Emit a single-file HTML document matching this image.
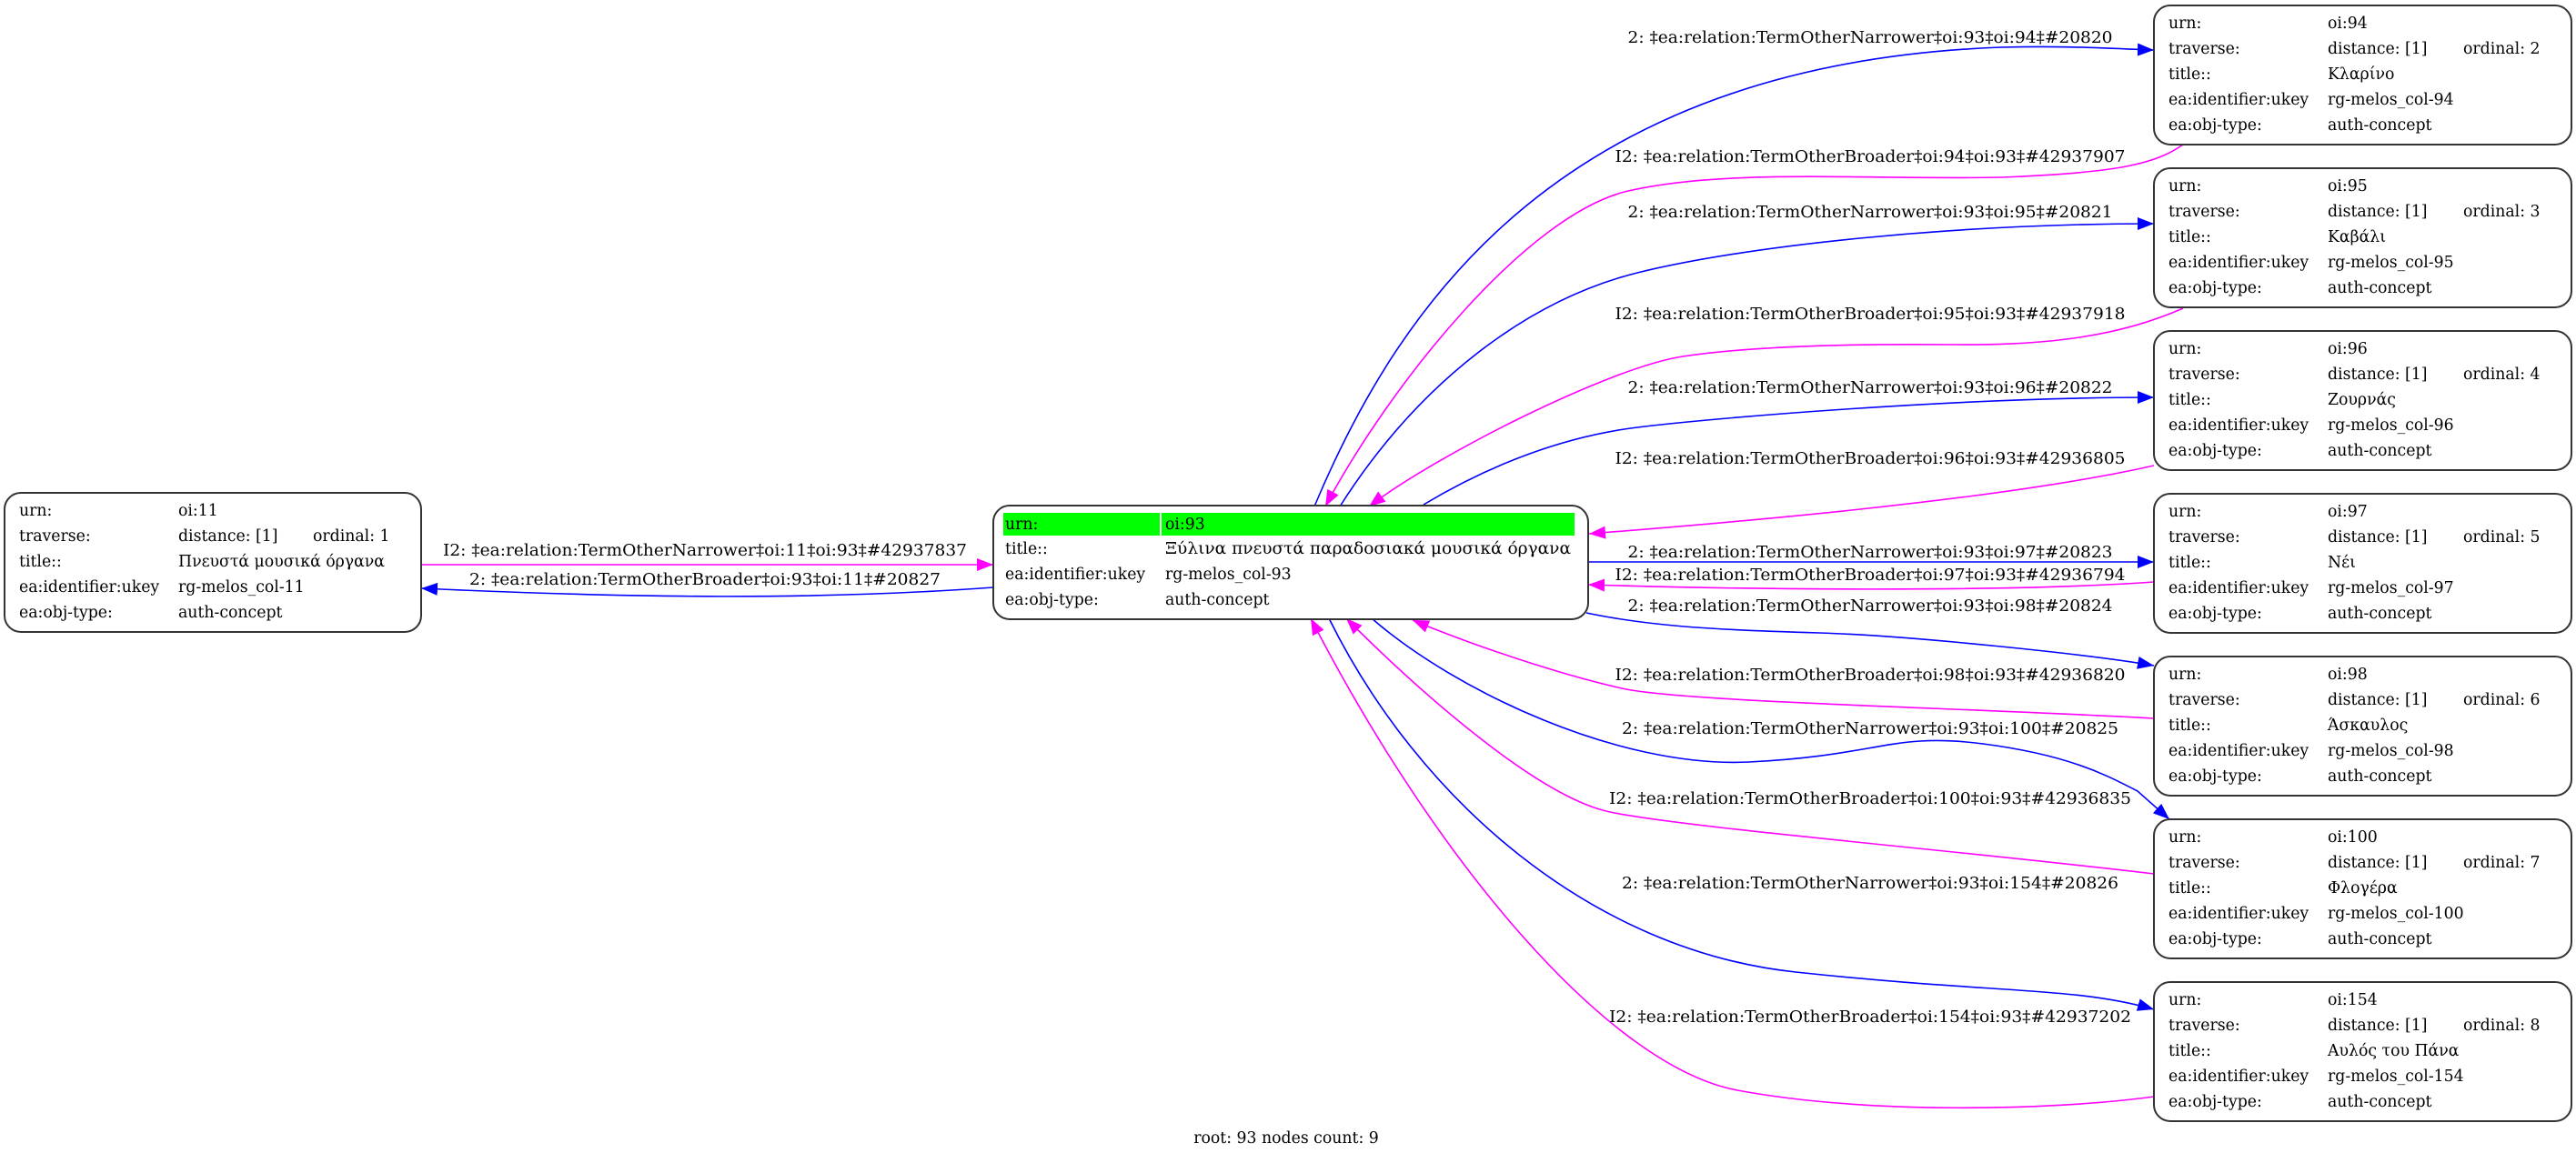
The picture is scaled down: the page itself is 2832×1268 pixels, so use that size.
<!DOCTYPE html>
<html><head><meta charset="utf-8"><style>
html,body{margin:0;padding:0;background:#fff;}
svg{display:block;}
text{font-family:"DejaVu Serif","Liberation Serif",serif;font-size:17.3px;fill:#000;}
.e{fill:none;stroke-width:1.6;}
.b{stroke:#0000ff;}
.m{stroke:#ff00ff;}
.n{fill:#fff;stroke:#333;stroke-width:2;}
</style></head><body>
<svg width="2832" height="1268" viewBox="0 0 2832 1268" xmlns="http://www.w3.org/2000/svg">
<defs>
<marker id="ab" markerUnits="userSpaceOnUse" markerWidth="20" markerHeight="14" refX="18" refY="7" orient="auto"><path d="M0,0 L18,7 L0,14 z" fill="#0000ff"/></marker>
<marker id="am" markerUnits="userSpaceOnUse" markerWidth="20" markerHeight="14" refX="18" refY="7" orient="auto"><path d="M0,0 L18,7 L0,14 z" fill="#ff00ff"/></marker>
</defs>

<!-- edges -->
<path class="e m" marker-end="url(#am)" d="M463,621 L1092,621"/>
<path class="e b" marker-end="url(#ab)" d="M1092,646 C900,660 700,658 463,647"/>
<path class="e b" marker-end="url(#ab)" d="M1445,557 C1540,330 1720,70 2200,52 C2280,50 2330,54 2368,55"/>
<path class="e m" marker-end="url(#am)" d="M2400,159 C2370,180 2330,190 2200,195 C2050,198 1900,185 1790,210 S1530,420 1457,557"/>
<path class="e b" marker-end="url(#ab)" d="M1473,557 C1560,420 1680,330 1800,300 S2150,246 2368,246"/>
<path class="e m" marker-end="url(#am)" d="M2400,339 C2330,370 2250,380 2150,379 S1930,380 1850,392 S1580,500 1505,557"/>
<path class="e b" marker-end="url(#ab)" d="M1565,555 C1640,510 1720,480 1800,470 S2150,437 2368,437"/>
<path class="e m" marker-end="url(#am)" d="M2368,512 C2200,550 1900,575 1747,587"/>
<path class="e b" marker-end="url(#ab)" d="M1746,618 L2368,618"/>
<path class="e m" marker-end="url(#am)" d="M2368,640 C2200,652 1900,648 1746,643"/>
<path class="e b" marker-end="url(#ab)" d="M1744,674 C1820,690 1900,693 2000,696 S2300,720 2368,732"/>
<path class="e m" marker-end="url(#am)" d="M2368,790 C2150,778 1850,772 1783,757 S1620,710 1553,682"/>
<path class="e b" marker-end="url(#ab)" d="M1508,680 C1600,760 1780,845 1923,838 S2080,805 2180,818 S2320,855 2350,870 L2385,901"/>
<path class="e m" marker-end="url(#am)" d="M2368,961 C2150,935 1850,910 1770,893 S1560,760 1480,680"/>
<path class="e b" marker-end="url(#ab)" d="M1461,680 C1560,880 1750,1045 1974,1069 S2280,1085 2368,1110"/>
<path class="e m" marker-end="url(#am)" d="M2368,1206 C2250,1222 2050,1225 1910,1199 S1580,950 1441,680"/>

<!-- edge labels -->
<g text-anchor="middle" dominant-baseline="central">
<text x="775" y="606" textLength="576" lengthAdjust="spacingAndGlyphs">I2: ‡ea:relation:TermOtherNarrower‡oi:11‡oi:93‡#42937837</text>
<text x="775" y="638" textLength="518" lengthAdjust="spacingAndGlyphs">2: ‡ea:relation:TermOtherBroader‡oi:93‡oi:11‡#20827</text>
<text x="2056" y="42" textLength="533" lengthAdjust="spacingAndGlyphs">2: ‡ea:relation:TermOtherNarrower‡oi:93‡oi:94‡#20820</text>
<text x="2056" y="173" textLength="561" lengthAdjust="spacingAndGlyphs">I2: ‡ea:relation:TermOtherBroader‡oi:94‡oi:93‡#42937907</text>
<text x="2056" y="234" textLength="533" lengthAdjust="spacingAndGlyphs">2: ‡ea:relation:TermOtherNarrower‡oi:93‡oi:95‡#20821</text>
<text x="2056" y="346" textLength="561" lengthAdjust="spacingAndGlyphs">I2: ‡ea:relation:TermOtherBroader‡oi:95‡oi:93‡#42937918</text>
<text x="2056" y="427" textLength="533" lengthAdjust="spacingAndGlyphs">2: ‡ea:relation:TermOtherNarrower‡oi:93‡oi:96‡#20822</text>
<text x="2056" y="505" textLength="561" lengthAdjust="spacingAndGlyphs">I2: ‡ea:relation:TermOtherBroader‡oi:96‡oi:93‡#42936805</text>
<text x="2056" y="608" textLength="533" lengthAdjust="spacingAndGlyphs">2: ‡ea:relation:TermOtherNarrower‡oi:93‡oi:97‡#20823</text>
<text x="2056" y="633" textLength="561" lengthAdjust="spacingAndGlyphs">I2: ‡ea:relation:TermOtherBroader‡oi:97‡oi:93‡#42936794</text>
<text x="2056" y="667" textLength="533" lengthAdjust="spacingAndGlyphs">2: ‡ea:relation:TermOtherNarrower‡oi:93‡oi:98‡#20824</text>
<text x="2056" y="743" textLength="561" lengthAdjust="spacingAndGlyphs">I2: ‡ea:relation:TermOtherBroader‡oi:98‡oi:93‡#42936820</text>
<text x="2056" y="802" textLength="546" lengthAdjust="spacingAndGlyphs">2: ‡ea:relation:TermOtherNarrower‡oi:93‡oi:100‡#20825</text>
<text x="2056" y="879" textLength="574" lengthAdjust="spacingAndGlyphs">I2: ‡ea:relation:TermOtherBroader‡oi:100‡oi:93‡#42936835</text>
<text x="2056" y="972" textLength="546" lengthAdjust="spacingAndGlyphs">2: ‡ea:relation:TermOtherNarrower‡oi:93‡oi:154‡#20826</text>
<text x="2056" y="1119" textLength="574" lengthAdjust="spacingAndGlyphs">I2: ‡ea:relation:TermOtherBroader‡oi:154‡oi:93‡#42937202</text>
<text x="1414" y="1252">root: 93 nodes count: 9</text>
</g>

<!-- left node -->
<rect class="n" x="5" y="542" width="458" height="153" rx="18"/>
<g dominant-baseline="central">
<text x="21" y="562">urn:</text><text x="196" y="562">oi:11</text>
<text x="21" y="590">traverse:</text><text x="196" y="590">distance: [1]</text><text x="344" y="590">ordinal: 1</text>
<text x="21" y="618">title::</text><text x="196" y="618">Πνευστά μουσικά όργανα</text>
<text x="21" y="646">ea:identifier:ukey</text><text x="196" y="646">rg-melos_col-11</text>
<text x="21" y="674">ea:obj-type:</text><text x="196" y="674">auth-concept</text>
</g>

<!-- center node -->
<rect class="n" x="1092" y="556" width="654" height="125" rx="18"/>
<rect x="1103" y="564" width="172" height="25" fill="#00ff00"/>
<rect x="1277" y="564" width="454" height="25" fill="#00ff00"/>
<g dominant-baseline="central">
<text x="1105" y="577">urn:</text><text x="1281" y="577">oi:93</text>
<text x="1105" y="604">title::</text><text x="1281" y="604" textLength="446" lengthAdjust="spacingAndGlyphs">Ξύλινα πνευστά παραδοσιακά μουσικά όργανα</text>
<text x="1105" y="632">ea:identifier:ukey</text><text x="1281" y="632">rg-melos_col-93</text>
<text x="1105" y="660">ea:obj-type:</text><text x="1281" y="660">auth-concept</text>
</g>

<!-- right nodes -->
<g dominant-baseline="central">
<rect class="n" x="2368" y="6" width="459" height="153" rx="18"/>
<text x="2384" y="26">urn:</text><text x="2559" y="26">oi:94</text>
<text x="2384" y="54">traverse:</text><text x="2559" y="54">distance: [1]</text><text x="2708" y="54">ordinal: 2</text>
<text x="2384" y="82">title::</text><text x="2559" y="82">Κλαρίνο</text>
<text x="2384" y="110">ea:identifier:ukey</text><text x="2559" y="110">rg-melos_col-94</text>
<text x="2384" y="138">ea:obj-type:</text><text x="2559" y="138">auth-concept</text>

<rect class="n" x="2368" y="185" width="459" height="153" rx="18"/>
<text x="2384" y="205">urn:</text><text x="2559" y="205">oi:95</text>
<text x="2384" y="233">traverse:</text><text x="2559" y="233">distance: [1]</text><text x="2708" y="233">ordinal: 3</text>
<text x="2384" y="261">title::</text><text x="2559" y="261">Καβάλι</text>
<text x="2384" y="289">ea:identifier:ukey</text><text x="2559" y="289">rg-melos_col-95</text>
<text x="2384" y="317">ea:obj-type:</text><text x="2559" y="317">auth-concept</text>

<rect class="n" x="2368" y="364" width="459" height="153" rx="18"/>
<text x="2384" y="384">urn:</text><text x="2559" y="384">oi:96</text>
<text x="2384" y="412">traverse:</text><text x="2559" y="412">distance: [1]</text><text x="2708" y="412">ordinal: 4</text>
<text x="2384" y="440">title::</text><text x="2559" y="440">Ζουρνάς</text>
<text x="2384" y="468">ea:identifier:ukey</text><text x="2559" y="468">rg-melos_col-96</text>
<text x="2384" y="496">ea:obj-type:</text><text x="2559" y="496">auth-concept</text>

<rect class="n" x="2368" y="543" width="459" height="153" rx="18"/>
<text x="2384" y="563">urn:</text><text x="2559" y="563">oi:97</text>
<text x="2384" y="591">traverse:</text><text x="2559" y="591">distance: [1]</text><text x="2708" y="591">ordinal: 5</text>
<text x="2384" y="619">title::</text><text x="2559" y="619">Νέι</text>
<text x="2384" y="647">ea:identifier:ukey</text><text x="2559" y="647">rg-melos_col-97</text>
<text x="2384" y="675">ea:obj-type:</text><text x="2559" y="675">auth-concept</text>

<rect class="n" x="2368" y="722" width="459" height="153" rx="18"/>
<text x="2384" y="742">urn:</text><text x="2559" y="742">oi:98</text>
<text x="2384" y="770">traverse:</text><text x="2559" y="770">distance: [1]</text><text x="2708" y="770">ordinal: 6</text>
<text x="2384" y="798">title::</text><text x="2559" y="798">Άσκαυλος</text>
<text x="2384" y="826">ea:identifier:ukey</text><text x="2559" y="826">rg-melos_col-98</text>
<text x="2384" y="854">ea:obj-type:</text><text x="2559" y="854">auth-concept</text>

<rect class="n" x="2368" y="901" width="459" height="153" rx="18"/>
<text x="2384" y="921">urn:</text><text x="2559" y="921">oi:100</text>
<text x="2384" y="949">traverse:</text><text x="2559" y="949">distance: [1]</text><text x="2708" y="949">ordinal: 7</text>
<text x="2384" y="977">title::</text><text x="2559" y="977">Φλογέρα</text>
<text x="2384" y="1005">ea:identifier:ukey</text><text x="2559" y="1005">rg-melos_col-100</text>
<text x="2384" y="1033">ea:obj-type:</text><text x="2559" y="1033">auth-concept</text>

<rect class="n" x="2368" y="1080" width="459" height="153" rx="18"/>
<text x="2384" y="1100">urn:</text><text x="2559" y="1100">oi:154</text>
<text x="2384" y="1128">traverse:</text><text x="2559" y="1128">distance: [1]</text><text x="2708" y="1128">ordinal: 8</text>
<text x="2384" y="1156">title::</text><text x="2559" y="1156">Αυλός του Πάνα</text>
<text x="2384" y="1184">ea:identifier:ukey</text><text x="2559" y="1184">rg-melos_col-154</text>
<text x="2384" y="1212">ea:obj-type:</text><text x="2559" y="1212">auth-concept</text>
</g>
</svg>
</body></html>
